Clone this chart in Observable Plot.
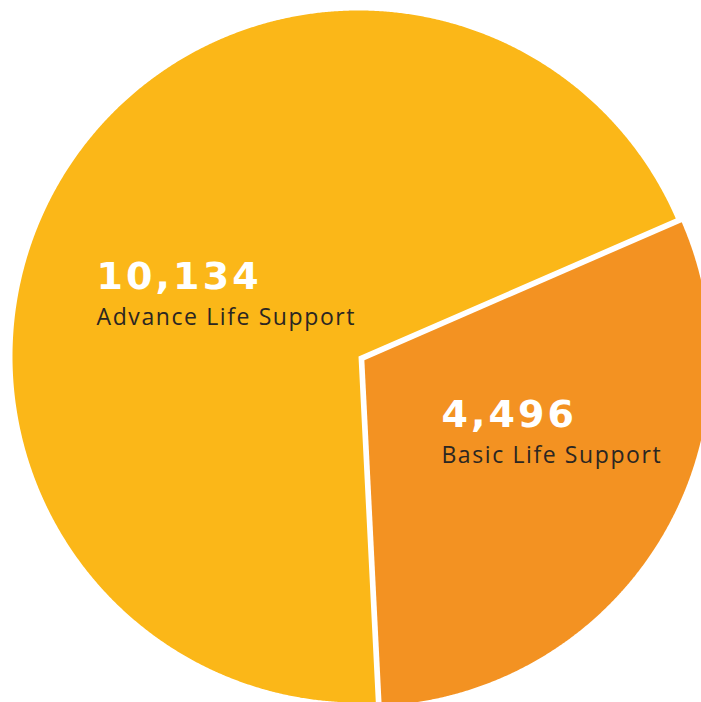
<!DOCTYPE html>
<html><head><meta charset="utf-8">
<script src="https://cdn.jsdelivr.net/npm/d3@7"></script>
<script src="https://cdn.jsdelivr.net/npm/@observablehq/plot@0.6"></script>
<style>html,body{margin:0;padding:0;background:#fff;overflow:hidden}</style>
</head><body><div id="chart"></div>
<script>
// ---- data ----
const categories = ["Basic Life Support", "Advance Life Support"];
const values = [4496, 10134];
const valueLabels = ["4,496", "10,134"];
const colors = ["#F39222", "#FBB718"];

// ---- layout ----
const W = 701, H = 702, R = 346, CX = 358, CY = 356;
const startAngle = 66.5 * Math.PI / 180;
const explode = [0.02, 0];
const labelOffsets = [{dx: -70, dy: -24}, {dx: -115, dy: 24}];

const pie = d3.pie().sort(null).startAngle(startAngle).endAngle(startAngle + 2 * Math.PI);
const arcs = pie(values);

const pts = [];
const labels = [];
arcs.forEach((a, i) => {
  const name = categories[i];
  const mid = (a.startAngle + a.endAngle) / 2;
  const ox = explode[i] * Math.sin(mid), oy = explode[i] * Math.cos(mid);
  pts.push({name, x: ox, y: oy});
  const n = Math.ceil((a.endAngle - a.startAngle) / (Math.PI / 720));
  for (let k = 0; k <= n; k++) {
    const t = a.startAngle + (a.endAngle - a.startAngle) * k / n;
    pts.push({name, x: ox + Math.sin(t), y: oy + Math.cos(t)});
  }
  labels.push({name, value: valueLabels[i], x: ox + 0.5 * Math.sin(mid), y: oy + 0.5 * Math.cos(mid), ...labelOffsets[i]});
});

const textMarks = labels.flatMap(l => [
  Plot.text([l], {x: "x", y: "y", text: "value", dx: l.dx, dy: l.dy, textAnchor: "start", lineAnchor: "bottom",
    fill: "#ffffff", fontSize: 38, fontWeight: 700, fontFamily: "DejaVu Sans", ariaLabel: "value-label"}),
  Plot.text([l], {x: "x", y: "y", text: "name", dx: l.dx, dy: l.dy + 36, textAnchor: "start", lineAnchor: "bottom",
    fill: "#2b2622", fontSize: 23, fontWeight: 400, fontFamily: "Open Sans", ariaLabel: "name-label"})
]);

const chart = Plot.plot({
  width: W, height: H,
  margin: 0,
  x: {domain: [-CX / R, (W - CX) / R], axis: null},
  y: {domain: [-(H - CY) / R, CY / R], axis: null},
  color: {domain: categories, range: colors},
  style: {background: "#ffffff", overflow: "visible"},
  marks: [
    Plot.line(pts, {x: "x", y: "y", z: "name", fill: "name", stroke: null, curve: "linear-closed"}),
    ...textMarks
  ]
});
d3.select(chart).selectAll("text").each(function() {
  const t = this.textContent;
  if (/^[\d,]+$/.test(t)) this.setAttribute("letter-spacing", "3.1");
  else this.setAttribute("letter-spacing", "1.6");
});
document.getElementById("chart").appendChild(chart);
</script>
</body></html>
